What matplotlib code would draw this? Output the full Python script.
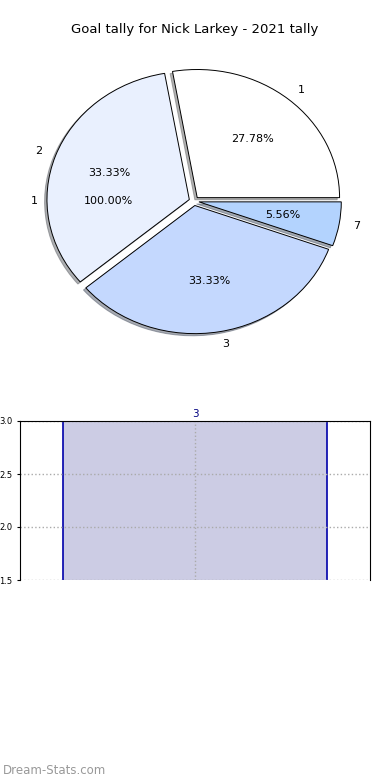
import matplotlib
matplotlib.use("Agg")
import matplotlib.pyplot as plt

# pie data
goal_labels = ["1", "2", "3", "7"]
goal_counts = [5, 6, 6, 1]
pie_colors = ["#ffffff", "#e9f0fe", "#c4d8fe", "#b3d3fe"]

# leftover single-slice pie
extra_labels = ["1"]
extra_counts = [1]

# bar data
bar_labels = ["3"]
bar_values = [3]

fig = plt.figure(figsize=(3.9, 7.8), dpi=100)
fig.text(0.5, 1 - 30 / 780, "Goal tally for Nick Larkey - 2021 tally",
         ha="center", va="center", fontsize=9.5)

ax = fig.add_axes([0.0667, 0.55, 0.8615, 0.3877])
wedges, texts, autotexts = ax.pie(goal_counts, labels=goal_labels, colors=pie_colors,
                                  explode=[0.035] * len(goal_counts), autopct="%.2f%%",
                                  shadow={"ox": -0.012, "oy": -0.012, "shade": 0.6},
                                  startangle=0,
                                  wedgeprops={"edgecolor": "black", "linewidth": 0.7},
                                  textprops={"fontsize": 8})
w2, t2, a2 = ax.pie(extra_counts, labels=extra_labels, autopct="%.2f%%",
                    wedgeprops={"facecolor": "none", "edgecolor": "none"},
                    textprops={"fontsize": 8})
ax.set_aspect("auto")
ax.set_xlim(-1.18, 1.18)
ax.set_ylim(-1.17, 1.19)

# bar chart
bx = fig.add_axes([20 / 390, 1 - 580 / 780, 350 / 390, 159 / 780])
bars = bx.bar(range(len(bar_values)), bar_values, width=0.8, color="#cccce4",
              edgecolor="#0000aa", linewidth=1.2, zorder=2)
for i, v in enumerate(bar_values):
    bx.text(i, v + 0.02, bar_labels[i], ha="center", va="bottom", color="#000080", fontsize=7.5)
bx.set_xlim(-0.53, 0.53)
bx.set_ylim(1.5, 3.0)
bx.set_yticks([1.5, 2.0, 2.5, 3.0])
bx.set_xticks([0])
bx.set_xticklabels([""])
bx.tick_params(axis="both", labelsize=6, length=2)
bx.tick_params(axis="x", length=0)
bx.grid(True, linestyle=":", color="#aaaaaa", linewidth=1, zorder=3)
bx.set_axisbelow(False)
for s in bx.spines.values():
    s.set_zorder(5)
bx.spines["bottom"].set_visible(False)

fig.text(3 / 390, 1 - 770 / 780, "Dream-Stats.com", ha="left", va="center",
         fontsize=8.5, color="#999999")

fig.savefig("out.png", dpi=100)
plt.close(fig)
